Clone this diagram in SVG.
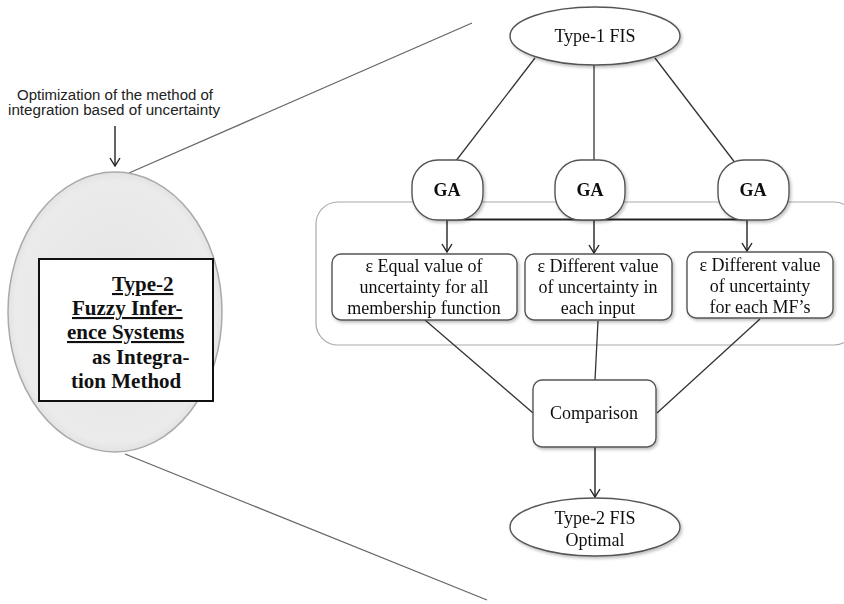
<svg xmlns="http://www.w3.org/2000/svg" width="844" height="604" viewBox="0 0 844 604">
  <defs>
    <filter id="shadow" x="-10%" y="-10%" width="130%" height="140%">
      <feDropShadow dx="1.5" dy="2" stdDeviation="1.5" flood-color="#000" flood-opacity="0.25"/>
    </filter>
    <radialGradient id="sphere" cx="50%" cy="50%" r="55%">
      <stop offset="0" stop-color="#e4e4e4"/>
      <stop offset="0.85" stop-color="#ebebeb"/>
      <stop offset="1" stop-color="#d6d6d6"/>
    </radialGradient>
    <!-- open V arrowhead, drawn pointing along +x -->
    <marker id="arrow" viewBox="0 0 12 12" refX="11" refY="6" markerWidth="12" markerHeight="12" markerUnits="userSpaceOnUse" orient="auto">
      <path d="M3,1 L11,6 L3,11" fill="none" stroke="#222" stroke-width="1.4"/>
    </marker>
  </defs>
  <style>
    .node { fill: #fff; stroke: #555; stroke-width: 1.4; }
    .ser { font-family: "Liberation Serif", "DejaVu Serif", serif; fill: #111; }
    .lbl { font-size: 18px; text-anchor: middle; }
    .conn { fill: none; stroke: #333; stroke-width: 1.3; }
    .zoom { fill: none; stroke: #666; stroke-width: 1.3; }
    .arr { fill: none; stroke: #222; stroke-width: 1.4; marker-end: url(#arrow); }
  </style>

  <rect width="844" height="604" fill="#fff"/>

  <!-- magnifier lines -->
  <g id="zoom-lines">
    <line class="zoom" x1="129" y1="173" x2="472" y2="23"/>
    <line class="zoom" x1="125" y1="454" x2="487" y2="600"/>
  </g>

  <!-- caption above the left node -->
  <g id="caption">
    <text x="115" y="100" font-family="'Liberation Sans', Arial, sans-serif" font-size="14" text-anchor="middle" fill="#222" textLength="196" lengthAdjust="spacingAndGlyphs">Optimization of the method of</text>
    <text x="114" y="115" font-family="'Liberation Sans', Arial, sans-serif" font-size="14" text-anchor="middle" fill="#222" textLength="212" lengthAdjust="spacingAndGlyphs">integration based of uncertainty</text>
  </g>

  <!-- container around the three variants -->
  <rect id="variants-frame" x="316" y="202" width="540" height="143" rx="22" fill="none" stroke="#aaa" stroke-width="1.2"/>

  <!-- left node: Type-2 integration method -->
  <g id="integration">
    <ellipse cx="115" cy="312" rx="107" ry="140" fill="url(#sphere)" stroke="#aaa" stroke-width="1.5"/>
    <rect x="39" y="259" width="174" height="142" fill="#fff" stroke="#111" stroke-width="2"/>
    <g class="ser" font-size="21" font-weight="bold">
      <text x="112" y="291" text-decoration="underline">Type-2</text>
      <text x="72" y="315" text-decoration="underline">Fuzzy Infer-</text>
      <text x="67" y="339" text-decoration="underline">ence Systems</text>
      <text x="92" y="364">as Integra-</text>
      <text x="71" y="388">tion Method</text>
    </g>
  </g>

  <!-- connectors -->
  <g id="connectors">
    <line class="arr" x1="115" y1="126" x2="115" y2="166"/>
    <line class="conn" x1="535" y1="58" x2="452" y2="166"/>
    <line class="conn" x1="594" y1="65" x2="594" y2="160"/>
    <line class="conn" x1="655" y1="58" x2="736" y2="164"/>
    <line x1="447" y1="219.5" x2="747" y2="219.5" stroke="#222" stroke-width="2"/>
    <line class="arr" x1="447" y1="219" x2="447" y2="252"/>
    <line class="arr" x1="594" y1="219" x2="594" y2="253"/>
    <line class="arr" x1="747" y1="219" x2="747" y2="251"/>
    <line class="conn" x1="425" y1="320" x2="533" y2="413"/>
    <line class="conn" x1="598" y1="321" x2="595" y2="380"/>
    <line class="conn" x1="760" y1="319" x2="657" y2="413"/>
    <line class="arr" x1="595" y1="447" x2="595" y2="497"/>
  </g>

  <g id="type1-fis" filter="url(#shadow)">
    <ellipse class="node" cx="595" cy="36" rx="85" ry="29"/>
    <text class="ser lbl" x="595" y="42">Type-1 FIS</text>
  </g>

  <g id="ga-1" filter="url(#shadow)">
    <rect class="node" x="412" y="160" width="71" height="60" rx="26"/>
    <text class="ser lbl" x="447" y="196" font-weight="bold" font-size="16">GA</text>
  </g>
  <g id="ga-2" filter="url(#shadow)">
    <rect class="node" x="555" y="160" width="70" height="60" rx="26"/>
    <text class="ser lbl" x="590" y="196" font-weight="bold" font-size="16">GA</text>
  </g>
  <g id="ga-3" filter="url(#shadow)">
    <rect class="node" x="718" y="160" width="71" height="60" rx="26"/>
    <text class="ser lbl" x="753" y="196" font-weight="bold" font-size="16">GA</text>
  </g>

  <g id="equal-uncertainty" filter="url(#shadow)">
    <rect class="node" x="332" y="254" width="185" height="66" rx="9"/>
    <text class="ser lbl" x="424" y="272">ε Equal value of</text>
    <text class="ser lbl" x="424" y="293">uncertainty for all</text>
    <text class="ser lbl" x="424" y="314">membership function</text>
  </g>

  <g id="input-uncertainty" filter="url(#shadow)">
    <rect class="node" x="525" y="254" width="147" height="66" rx="9"/>
    <text class="ser lbl" x="598" y="272">ε Different value</text>
    <text class="ser lbl" x="598" y="293">of uncertainty in</text>
    <text class="ser lbl" x="598" y="314">each input</text>
  </g>

  <g id="mf-uncertainty" filter="url(#shadow)">
    <rect class="node" x="687" y="252" width="146" height="66" rx="9"/>
    <text class="ser lbl" x="760" y="271">ε Different value</text>
    <text class="ser lbl" x="760" y="292">of uncertainty</text>
    <text class="ser lbl" x="760" y="313">for each MF’s</text>
  </g>

  <g id="comparison" filter="url(#shadow)">
    <rect class="node" x="533" y="380" width="123" height="67" rx="9"/>
    <text class="ser lbl" x="594" y="419">Comparison</text>
  </g>

  <g id="type2-fis" filter="url(#shadow)">
    <ellipse class="node" cx="595" cy="527" rx="85" ry="29"/>
    <text class="ser lbl" x="595" y="524">Type-2 FIS</text>
    <text class="ser lbl" x="595" y="546">Optimal</text>
  </g>
</svg>
